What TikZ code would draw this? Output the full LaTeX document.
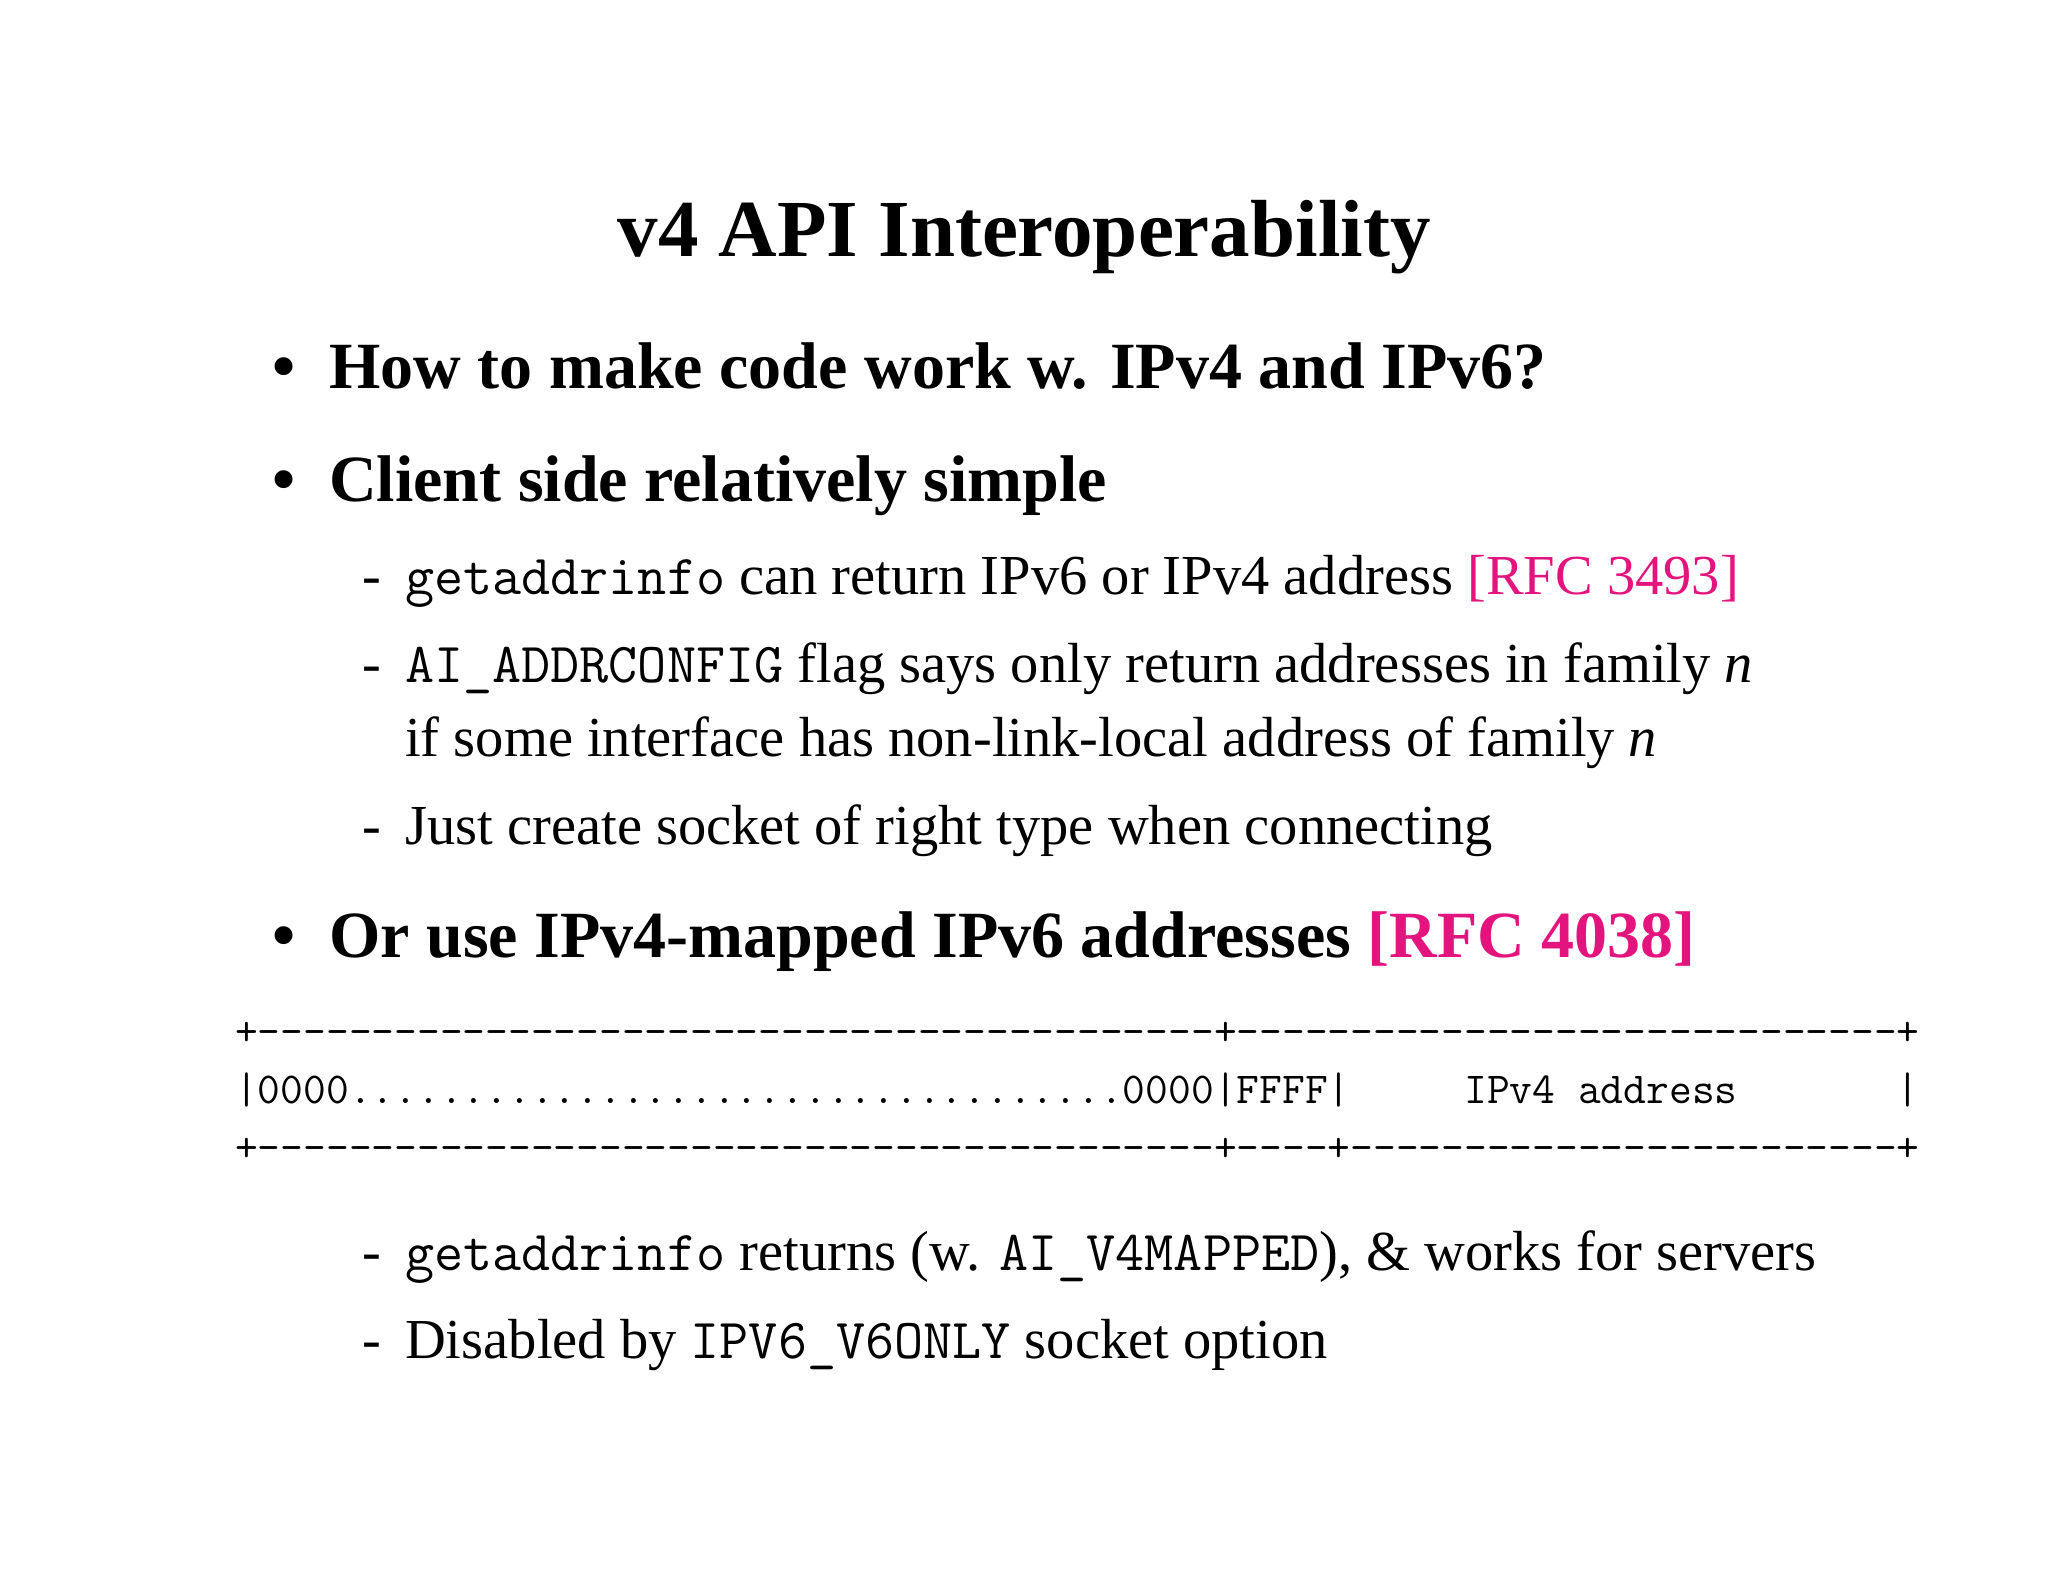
\documentclass[tikz,border=0pt]{standalone}
\usepackage{fontspec}
\setmainfont{Liberation Serif}
\setmonofont{Latin Modern Mono}
\definecolor{rfc}{HTML}{E4147F}
\def\dd{-{}}
\begin{document}
\begin{tikzpicture}[x=1pt,y=-1pt,
  t/.style={anchor=base west,inner sep=0pt},
  big/.style={t,font=\fontsize{66}{68}\selectfont\bfseries},
  sub/.style={t,font=\fontsize{56.5}{58}\selectfont},
  tab/.style={t,font=\fontsize{44.2}{46}\selectfont\ttfamily}]
\useasboundingbox[fill=white] (0,0) rectangle (2048,1582);
\node[anchor=base,inner sep=0pt,font=\fontsize{81}{84}\selectfont\bfseries] (title) at (1024,256) {v4 API Interoperability};
\node[big] (b1d) at (272,388) {•};
\node[big] (b1) at (329,388) {How to make code work w. IPv4 and IPv6?};
\node[big] (b2d) at (272,501) {•};
\node[big] (b2) at (329,501) {Client side relatively simple};
\node[sub] (s1d) at (362,594) {-};
\node[sub] (s1) at (405,594) {\texttt{getaddrinfo} can return IPv6 or IPv4 address \textcolor{rfc}{[RFC 3493]}};
\node[sub] (s2d) at (362,682) {-};
\node[sub] (s2) at (405,682) {\texttt{AI\_ADDRCONFIG} flag says only return addresses in family \textit{n}};
\node[sub] (s2b) at (405,756) {if some interface has non-link-local address of family \textit{n}};
\node[sub] (s3d) at (362,844) {-};
\node[sub] (s3) at (405,844) {Just create socket of right type when connecting};
\node[big] (b3d) at (272,957) {•};
\node[big] (b3) at (329,957) {Or use IPv4-mapped IPv6 addresses \textcolor{rfc}{[RFC 4038]}};
\node[tab] (r1) at (235,1045) {+\dd\dd\dd\dd\dd\dd\dd\dd\dd\dd\dd\dd\dd\dd\dd\dd\dd\dd\dd\dd\dd\dd\dd\dd\dd\dd\dd\dd\dd\dd\dd\dd\dd\dd\dd\dd\dd\dd\dd\dd\dd\dd+\dd\dd\dd\dd\dd\dd\dd\dd\dd\dd\dd\dd\dd\dd\dd\dd\dd\dd\dd\dd\dd\dd\dd\dd\dd\dd\dd\dd\dd+};
\node[tab] (r2) at (235,1103) {|0000..................................0000|FFFF|~~~~~IPv4~address~~~~~~~|};
\node[tab] (r3) at (235,1161) {+\dd\dd\dd\dd\dd\dd\dd\dd\dd\dd\dd\dd\dd\dd\dd\dd\dd\dd\dd\dd\dd\dd\dd\dd\dd\dd\dd\dd\dd\dd\dd\dd\dd\dd\dd\dd\dd\dd\dd\dd\dd\dd+\dd\dd\dd\dd+\dd\dd\dd\dd\dd\dd\dd\dd\dd\dd\dd\dd\dd\dd\dd\dd\dd\dd\dd\dd\dd\dd\dd\dd+};
\node[sub] (s4d) at (362,1270) {-};
\node[sub] (s4) at (405,1270) {\texttt{getaddrinfo} returns (w. \texttt{AI\_V4MAPPED}), \& works for servers};
\node[sub] (s5d) at (362,1358) {-};
\node[sub] (s5) at (405,1358) {Disabled by \texttt{IPV6\_V6ONLY} socket option};
\end{tikzpicture}
\end{document}
